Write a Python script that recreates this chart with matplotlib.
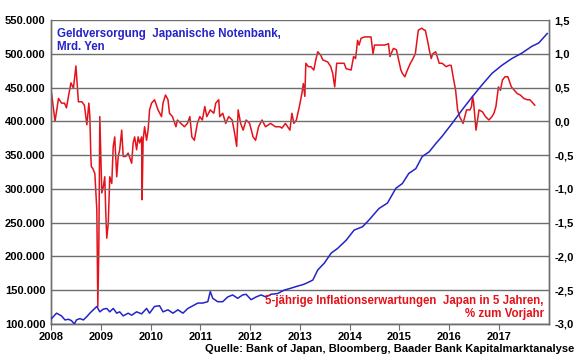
import matplotlib
matplotlib.use("Agg")
import matplotlib.pyplot as plt
from matplotlib.ticker import FuncFormatter

plt.rcParams["font.family"] = ["Liberation Sans", "DejaVu Sans"]
plt.rcParams["font.weight"] = "bold"

# Geldversorgung (Monetary base), Mrd. Yen -> left axis, in thousands
blue_x = [2008.01, 2008.11, 2008.21, 2008.28, 2008.35, 2008.41, 2008.47, 2008.51, 2008.58, 2008.65,
          2008.72, 2008.78, 2008.85, 2008.92, 2008.98, 2009.05, 2009.12, 2009.18, 2009.25, 2009.32,
          2009.38, 2009.45, 2009.55, 2009.62, 2009.72, 2009.82, 2009.92, 2009.98, 2010.08, 2010.18,
          2010.25, 2010.35, 2010.45, 2010.55, 2010.65, 2010.75, 2010.85, 2010.95, 2011.05, 2011.15,
          2011.2, 2011.25, 2011.35, 2011.45, 2011.55, 2011.65, 2011.75, 2011.85, 2011.92, 2012.02,
          2012.12, 2012.22, 2012.32, 2012.42, 2012.55, 2012.68, 2012.82, 2012.95, 2013.05, 2013.12,
          2013.26, 2013.36, 2013.49, 2013.63, 2013.76, 2013.93, 2014.09, 2014.26, 2014.39, 2014.59,
          2014.76, 2014.93, 2015.06, 2015.19, 2015.33, 2015.46, 2015.6, 2015.73, 2015.86, 2016.06,
          2016.26, 2016.46, 2016.66, 2016.86, 2017.06, 2017.26, 2017.46, 2017.66, 2017.8, 2017.97]
blue_y = [108, 116, 112, 106, 107, 105, 100, 106, 108, 106,
          111, 116, 121, 126, 118, 122, 123, 118, 123, 116,
          118, 112, 116, 113, 118, 115, 123, 116, 126, 127,
          118, 121, 116, 121, 116, 123, 127, 131, 131, 133,
          148, 138, 133, 133, 140, 143, 138, 143, 144, 136,
          140, 143, 140, 144, 145, 150, 153, 156, 158, 160,
          165, 180, 190, 205, 212, 224, 239, 244, 254, 271,
          279, 301, 308, 323, 330, 348, 355, 367, 378, 397,
          417, 436, 454, 471, 483, 493, 501, 511, 516, 530]

# 5-jaehrige Inflationserwartungen, % -> right axis
red_x = [2008.01, 2008.08, 2008.15, 2008.21, 2008.27, 2008.31, 2008.35, 2008.4, 2008.45, 2008.5,
         2008.55, 2008.62, 2008.67, 2008.72, 2008.76, 2008.78, 2008.8, 2008.81, 2008.84, 2008.88,
         2008.92, 2008.94, 2008.96, 2008.98, 2009.02, 2009.05, 2009.08, 2009.1, 2009.12, 2009.15,
         2009.18, 2009.22, 2009.25, 2009.28, 2009.32, 2009.35, 2009.38, 2009.42, 2009.45, 2009.5,
         2009.55, 2009.62, 2009.65, 2009.68, 2009.72, 2009.75, 2009.78, 2009.82, 2009.83, 2009.85,
         2009.88, 2009.92, 2009.95, 2009.98, 2010.02, 2010.08, 2010.15, 2010.22, 2010.25, 2010.3,
         2010.35, 2010.38, 2010.44, 2010.51, 2010.54, 2010.61, 2010.68, 2010.74, 2010.79, 2010.83,
         2010.88, 2010.94, 2010.99, 2011.04, 2011.09, 2011.13, 2011.2, 2011.27, 2011.31, 2011.37,
         2011.39, 2011.45, 2011.51, 2011.57, 2011.64, 2011.69, 2011.73, 2011.76, 2011.81, 2011.86,
         2011.92, 2011.99, 2012.06, 2012.11, 2012.17, 2012.24, 2012.31, 2012.41, 2012.51, 2012.6,
         2012.64, 2012.71, 2012.8, 2012.84, 2012.88, 2012.93, 2012.99, 2013.04, 2013.07, 2013.1,
         2013.12, 2013.17, 2013.22, 2013.28, 2013.32, 2013.36, 2013.42, 2013.46, 2013.56, 2013.62,
         2013.66, 2013.7, 2013.74, 2013.83, 2013.89, 2013.93, 2014.03, 2014.08, 2014.12, 2014.16,
         2014.19, 2014.23, 2014.3, 2014.43, 2014.47, 2014.5, 2014.7, 2014.75, 2014.78, 2014.81,
         2014.88, 2014.94, 2015.03, 2015.06, 2015.11, 2015.15, 2015.22, 2015.26, 2015.32, 2015.38,
         2015.45, 2015.5, 2015.52, 2015.57, 2015.6, 2015.64, 2015.67, 2015.73, 2015.8, 2015.86,
         2015.94, 2016.0, 2016.04, 2016.08, 2016.13, 2016.17, 2016.21, 2016.28, 2016.35, 2016.42,
         2016.45, 2016.47, 2016.49, 2016.54, 2016.6, 2016.67, 2016.73, 2016.8, 2016.86, 2016.9,
         2016.94, 2016.99, 2017.03, 2017.07, 2017.12, 2017.18, 2017.25, 2017.31, 2017.37, 2017.43,
         2017.5, 2017.57, 2017.62, 2017.66, 2017.72]
red_y = [0.42, 0.0, 0.34, 0.27, 0.27, 0.2, 0.37, 0.57, 0.49, 0.82,
         0.29, 0.29, 0.24, -0.05, 0.27, 0.07, -0.52, -0.67, -0.7, -0.77,
         -1.31, -2.74, -1.9, 0.07, -1.06, -0.97, -0.82, -1.36, -1.73, -1.51,
         -0.82, -0.92, -0.37, -0.23, -0.82, -0.52, -0.42, -0.13, -0.52, -0.52,
         -0.47, -0.62, -0.32, -0.23, -0.42, -0.23, -0.32, -0.23, -1.16, -0.28,
         -0.08, -0.28, -0.13, 0.17, 0.27, 0.32, 0.17, 0.07, 0.27, 0.39,
         0.32, 0.12, 0.07, -0.08, 0.02, -0.03, -0.08, -0.03, 0.07, -0.23,
         -0.28, -0.03, 0.07, 0.02, 0.22, 0.07, 0.17, 0.12, 0.27, 0.32,
         0.07, 0.12, -0.03, 0.07, 0.02, -0.18, -0.37, 0.17, -0.03, -0.13,
         0.02, -0.03, -0.23, -0.28, -0.08, 0.02, -0.08, -0.03, -0.08, -0.08,
         -0.1, -0.03, -0.13, 0.12, -0.03, 0.02, 0.22, 0.41, 0.56, 0.37,
         0.86, 0.81, 0.81, 0.76, 0.91, 1.03, 0.98, 0.91, 0.88, 0.81,
         0.71, 0.51, 0.86, 0.86, 0.86, 0.78, 0.76, 0.96, 0.93, 1.2,
         1.13, 1.23, 1.25, 1.25, 1.0, 1.13, 1.13, 1.14, 1.15, 0.96,
         1.08, 1.06, 0.76, 0.71, 0.66, 0.74, 0.86, 0.91, 1.0, 1.35,
         1.38, 1.35, 1.35, 1.18, 1.06, 0.93, 1.0, 1.03, 0.86, 0.86,
         0.81, 0.83, 0.83, 0.66, 0.46, 0.17, 0.07, -0.03, 0.17, 0.17,
         0.22, 0.37, 0.29, -0.13, 0.17, 0.14, 0.07, 0.02, 0.07, 0.12,
         0.22, 0.51, 0.46, 0.61, 0.66, 0.66, 0.51, 0.46, 0.41, 0.39,
         0.34, 0.32, 0.32, 0.29, 0.24]

years = list(range(2008, 2018))
left_ticks = [100, 150, 200, 250, 300, 350, 400, 450, 500, 550]
right_ticks = [-3.0, -2.5, -2.0, -1.5, -1.0, -0.5, 0.0, 0.5, 1.0, 1.5]

blue = "#2424c8"
red = "#e4121b"
grid_c = "#6e6e6e"

fig = plt.figure(figsize=(5.8, 3.58), dpi=100)
ax = fig.add_axes([0.088, 0.095, 0.858, 0.849])
ax2 = ax.twinx()

for v in left_ticks:
    ax.axhline(v, color=grid_c, lw=1.0, zorder=0)
ax.plot(blue_x, blue_y, color=blue, lw=1.1, zorder=3)
ax2.plot(red_x, red_y, color=red, lw=1.1, zorder=2)

ax.set_xlim(2008, 2018)
ax.set_ylim(100, 550)
ax2.set_ylim(-3.0, 1.5)
ax.set_yticks(left_ticks)
ax2.set_yticks(right_ticks)
ax.yaxis.set_major_formatter(FuncFormatter(lambda v, p: f"{int(v)}.000"))
ax2.yaxis.set_major_formatter(FuncFormatter(lambda v, p: f"{v:.1f}".replace(".", ",")))
ax.set_xticks(years)
ax.set_xticklabels([str(y) for y in years])

for a in (ax, ax2):
    for s in a.spines.values():
        s.set_color(grid_c)
        s.set_linewidth(1.0)
    a.tick_params(axis="y", length=0, labelsize=8, pad=4)
ax.spines["top"].set_visible(False)
ax2.spines["top"].set_visible(False)
ax.tick_params(axis="x", length=4, color=grid_c, labelsize=8, pad=2)

ax.set_zorder(ax2.get_zorder() + 1)
ax.patch.set_visible(False)

ax.text(0.012, 0.975, "Geldversorgung  Japanische Notenbank,\nMrd. Yen", transform=ax.transAxes,
        ha="left", va="top", color=blue, fontsize=8.3, fontweight="bold", linespacing=1.15)
ax.text(0.99, 0.012, "5-jährige Inflationserwartungen  Japan in 5 Jahren,\n% zum Vorjahr",
        transform=ax.transAxes, ha="right", va="bottom", color=red, fontsize=8.3, fontweight="bold",
        linespacing=1.15, multialignment="right")
fig.text(0.99, 0.012, "Quelle: Bank of Japan, Bloomberg, Baader Bank Kapitalmarktanalyse",
         ha="right", va="bottom", fontsize=8, fontweight="bold")

fig.savefig("out.png", dpi=100)
